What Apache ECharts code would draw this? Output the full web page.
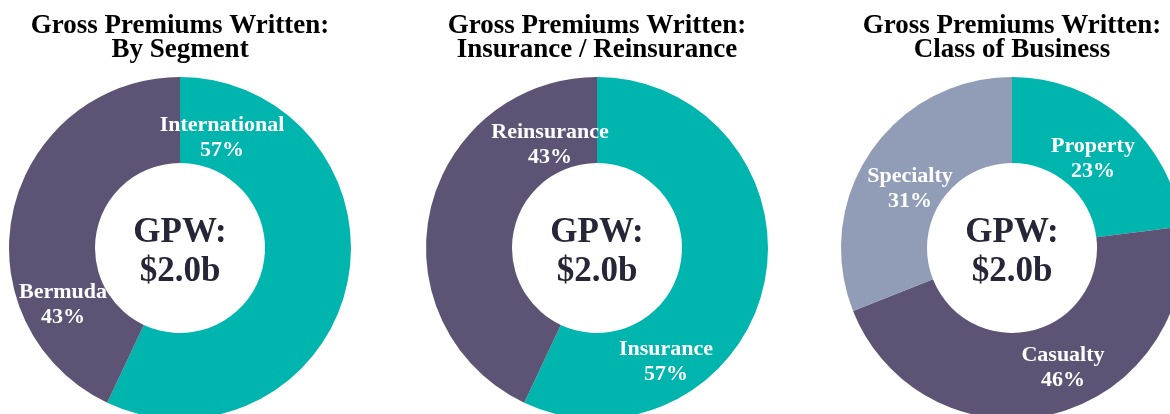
<!DOCTYPE html>
<html>
<head>
    <meta charset="utf-8">
    <title>GPW donuts</title>
    <script src="https://cdn.jsdelivr.net/npm/echarts@6/dist/echarts.min.js"></script>
    <style>
        html, body { margin: 0; padding: 0; background: #fff; }
        #main { width: 1170px; height: 414px; }
    </style>
</head>
<body>
<div id="main"></div>
<script type="text/javascript">

// data (percent of GPW)
var segmentNames = ['International', 'Bermuda'];
var segmentValues = [57, 43];

var insuranceNames = ['Insurance', 'Reinsurance'];
var insuranceValues = [57, 43];

var classNames = ['Property', 'Casualty', 'Specialty'];
var classValues = [23, 46, 31];

var chartTitles = [
    'Gross Premiums Written:\nBy Segment',
    'Gross Premiums Written:\nInsurance / Reinsurance',
    'Gross Premiums Written:\nClass of Business'
];
var centerText = 'GPW:\n$2.0b';

var TEAL = '#00b5ad';
var PURPLE = '#5d5374';
var SLATE = '#919cb6';

// layout
var centersX = [180, 597, 1012];
var centerY = 248;
var labelPos = [
    [[222, 138], [63, 305]],
    [[666, 362], [550, 145]],
    [[1093, 159], [1063, 368], [910, 189]]
];

var myChart = echarts.init(document.getElementById('main'));

function makeData(names, values, colors) {
    var out = [];
    for (var i = 0; i < names.length; i++) {
        out.push({ name: names[i], value: values[i], itemStyle: { color: colors[i] } });
    }
    return out;
}

function makeSeries(idx, data) {
    return {
        type: 'pie',
        center: [centersX[idx], centerY],
        radius: [85, 171],
        startAngle: 90,
        clockwise: true,
        silent: true,
        data: data,
        label: {
            show: true,
            position: 'inside',
            formatter: '{b}\n{c}%',
            color: '#ffffff',
            fontFamily: 'Liberation Serif',
            fontWeight: 'bold',
            fontSize: 22,
            lineHeight: 25
        },
        labelLine: { show: false },
        labelLayout: function (params) {
            var p = labelPos[idx][params.dataIndex];
            return { x: p[0], y: p[1], align: 'center', verticalAlign: 'middle' };
        }
    };
}

var graphics = [];
for (var k = 0; k < 3; k++) {
    graphics.push({
        type: 'text',
        x: centersX[k],
        y: 38,
        style: {
            text: chartTitles[k],
            font: 'bold 27px "Liberation Serif"',
            lineHeight: 24,
            fill: '#000000',
            align: 'center',
            verticalAlign: 'middle'
        }
    });
    graphics.push({
        type: 'text',
        x: centersX[k],
        y: 252,
        style: {
            text: centerText,
            font: 'bold 35px "Liberation Serif"',
            lineHeight: 39,
            fill: '#262638',
            align: 'center',
            verticalAlign: 'middle'
        }
    });
}

myChart.setOption({
    animation: false,
    backgroundColor: '#ffffff',
    graphic: graphics,
    series: [
        makeSeries(0, makeData(segmentNames, segmentValues, [TEAL, PURPLE])),
        makeSeries(1, makeData(insuranceNames, insuranceValues, [TEAL, PURPLE])),
        makeSeries(2, makeData(classNames, classValues, [TEAL, PURPLE, SLATE]))
    ]
});

</script>
</body>
</html>
